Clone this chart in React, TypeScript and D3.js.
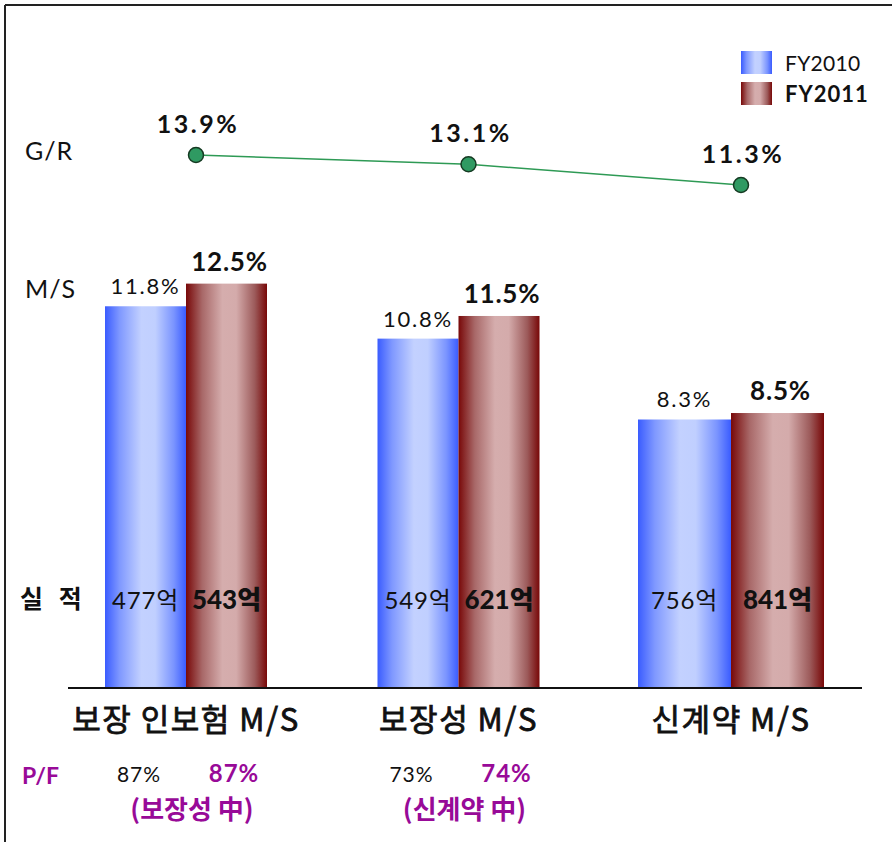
import React from 'react';
import * as d3 from 'd3';

// Market share (M/S), growth rate (G/R), premium amounts and portfolio share per business line
const categories = ['보장 인보험 M/S', '보장성 M/S', '신계약 M/S'];
const seriesNames = ['FY2010', 'FY2011'];
const ms2010 = [11.8, 10.8, 8.3];
const ms2011 = [12.5, 11.5, 8.5];
const amount2010 = [477, 549, 756];
const amount2011 = [543, 621, 841];
const growthRate = [13.9, 13.1, 11.3];
const pf2010: (number | null)[] = [87, 73, null];
const pf2011: (number | null)[] = [87, 74, null];
const pfNotes: (string | null)[] = ['(보장성 中)', '(신계약 中)', null];

const W = 892;
const H = 842;
const BASE_Y = 688;
const LATIN = "'Lato', 'Noto Sans CJK KR', sans-serif";
const KOREAN = "'Noto Sans CJK KR', 'Lato', sans-serif";
const PURPLE = '#980a98';
const barWidths = [81, 81, 93];

export default function App() {
  const x = d3.scalePoint<string>().domain(categories).range([186, 731]);
  const yMS = d3.scaleLinear().domain([0, 10]).range([BASE_Y, 364.5]);
  const yGR = d3.scaleLinear().domain([11.3, 13.9]).range([185, 155]);

  const grPoints: [number, number][] = categories.map((c, i) => [
    (x(c) as number) + 10,
    yGR(growthRate[i]),
  ]);
  const grLine = d3.line()(grPoints) as string;

  return (
    <svg
      width={W}
      height={H}
      style={{ position: 'absolute', left: 0, top: 0, background: '#fff' }}
    >
      <defs>
        <linearGradient id="gradBlue" x1="0" x2="1" y1="0" y2="0">
          <stop offset="0" stopColor="#3a5cff" />
          <stop offset="0.18" stopColor="#7f98ff" />
          <stop offset="0.45" stopColor="#c3d1ff" />
          <stop offset="0.62" stopColor="#c0cfff" />
          <stop offset="0.85" stopColor="#7a94ff" />
          <stop offset="1" stopColor="#3a5cff" />
        </linearGradient>
        <linearGradient id="gradRed" x1="0" x2="1" y1="0" y2="0">
          <stop offset="0" stopColor="#780808" />
          <stop offset="0.2" stopColor="#a86868" />
          <stop offset="0.45" stopColor="#d5adad" />
          <stop offset="0.62" stopColor="#d4abab" />
          <stop offset="0.85" stopColor="#9c5a5a" />
          <stop offset="1" stopColor="#780808" />
        </linearGradient>
      </defs>

      {/* frame */}
      <line x1={5} y1={5} x2={W} y2={5} stroke="#222" strokeWidth={2} />
      <line x1={5} y1={5} x2={5} y2={H} stroke="#222" strokeWidth={2} />

      {/* row labels */}
      <text x={25} y={160} fontFamily={LATIN} fontSize={25} letterSpacing={1} fill="#111">G/R</text>
      <text x={25} y={298} fontFamily={LATIN} fontSize={25} letterSpacing={1} fill="#111">M/S</text>
      <text x={20} y={608} fontFamily={KOREAN} fontSize={25} fontWeight="bold" fill="#111" letterSpacing={5}>실 적</text>
      <text x={22} y={784} fontFamily={LATIN} fontSize={23} fontWeight="bold" fill={PURPLE}>P/F</text>

      {/* bars */}
      {categories.map((c, i) => {
        const cx = x(c) as number;
        const bw = barWidths[i];
        const y0 = yMS(ms2010[i]);
        const y1 = yMS(ms2011[i]);
        return (
          <g key={c}>
            <rect x={cx - bw} y={y0} width={bw} height={BASE_Y - y0} fill="url(#gradBlue)" />
            <rect x={cx} y={y1} width={bw} height={BASE_Y - y1} fill="url(#gradRed)" />
            <text x={cx - bw / 2} y={y0 - 12} textAnchor="middle" fontFamily={LATIN} fontSize={22} letterSpacing={1.8} fill="#111">
              {ms2010[i]}%
            </text>
            <text x={cx + bw / 2 + 3} y={y1 - 13} textAnchor="middle" fontFamily={LATIN} fontSize={26} fontWeight="bold" letterSpacing={0.8} fill="#111">
              {ms2011[i]}%
            </text>
            <text x={cx - bw / 2} y={609} textAnchor="middle" fontFamily={LATIN} fontSize={24} letterSpacing={0.8} fill="#111">
              {amount2010[i]}억
            </text>
            <text x={cx + bw / 2} y={609} textAnchor="middle" fontFamily={LATIN} fontSize={26} fontWeight="900" fill="#111">
              {amount2011[i]}억
            </text>
          </g>
        );
      })}

      {/* baseline */}
      <line x1={68} y1={BASE_Y} x2={862} y2={BASE_Y} stroke="#111" strokeWidth={2} />

      {/* growth rate line */}
      <path d={grLine} fill="none" stroke="#2e9a55" strokeWidth={1.5} />
      {grPoints.map(([px, py], i) => (
        <g key={i}>
          <circle cx={px} cy={py} r={7.5} fill="#2f9a62" stroke="#153a22" strokeWidth={1.5} />
          <text x={px + 2} y={py - 22} textAnchor="middle" fontFamily={LATIN} fontSize={25} fontWeight="bold" letterSpacing={2.5} fill="#111">
            {growthRate[i]}%
          </text>
        </g>
      ))}

      {/* category labels and portfolio share */}
      {categories.map((c, i) => {
        const cx = x(c) as number;
        return (
          <g key={'cat' + i}>
            <text x={cx} y={731} textAnchor="middle" fontFamily={KOREAN} fontSize={31} fontWeight="normal" stroke="#111" strokeWidth={0.8} letterSpacing={1.5} fill="#111">
              {c}
            </text>
            {pf2010[i] !== null && (
              <text x={cx - 47} y={782} textAnchor="middle" fontFamily={LATIN} fontSize={21} letterSpacing={1} fill="#111">
                {pf2010[i]}%
              </text>
            )}
            {pf2011[i] !== null && (
              <text x={cx + 48} y={782} textAnchor="middle" fontFamily={LATIN} fontSize={24} fontWeight="bold" letterSpacing={1} fill={PURPLE}>
                {pf2011[i]}%
              </text>
            )}
            {pfNotes[i] !== null && (
              <text x={cx + 6} y={819} textAnchor="middle" fontFamily={KOREAN} fontSize={26} fontWeight="bold" fill={PURPLE}>
                {pfNotes[i]}
              </text>
            )}
          </g>
        );
      })}

      {/* legend */}
      {seriesNames.map((s, i) => (
        <g key={s}>
          <rect x={741} y={51 + i * 31} width={31} height={23} fill={i === 0 ? 'url(#gradBlue)' : 'url(#gradRed)'} />
          <text x={785} y={71 + i * 31} fontFamily={LATIN} fontSize={i === 0 ? 21 : 22} fontWeight={i === 0 ? 'normal' : 'bold'} letterSpacing={i === 0 ? 0.3 : 1} fill="#111">
            {s}
          </text>
        </g>
      ))}
    </svg>
  );
}
